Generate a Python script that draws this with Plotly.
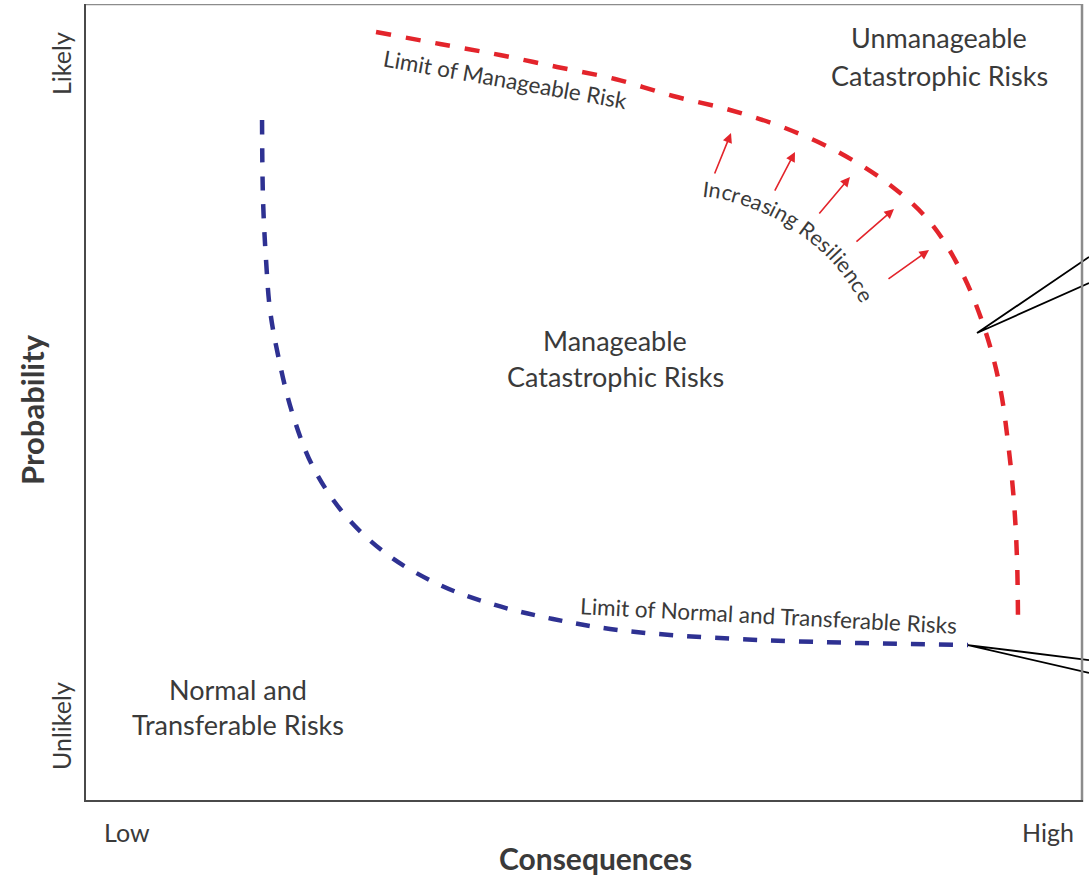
import math
import plotly.graph_objects as go

# ---------------- data (Consequences %, Probability %) ----------------
red_x = [29.26, 35.67, 41.68, 47.39, 53.21, 59.02, 64.73, 70.24, 75.75, 80.76,
         84.77, 87.98, 90.28, 91.78, 92.59, 93.19, 93.49, 93.59]
red_y = [96.49, 94.99, 93.61, 92.11, 90.60, 88.47, 86.72, 84.46, 81.33, 77.32,
         72.68, 66.29, 59.15, 52.01, 44.99, 37.47, 30.33, 22.06]

blue_x = [17.84, 17.94, 18.24, 18.64, 19.44, 20.84, 22.95, 26.15, 30.46, 35.67,
          41.18, 46.99, 52.71, 58.72, 67.74, 77.76, 88.58]
blue_y = [85.46, 75.44, 67.92, 61.65, 56.02, 48.87, 41.98, 35.96, 30.95, 27.19,
          24.69, 22.93, 21.68, 20.93, 20.30, 19.92, 19.67]

arrow_tail_x = [63.13, 69.14, 73.55, 77.25, 80.46]
arrow_tail_y = [78.57, 76.44, 73.56, 70.05, 65.41]
arrow_head_x = [64.83, 71.24, 76.75, 81.16, 84.67]
arrow_head_y = [83.83, 81.45, 78.32, 74.31, 69.17]

callout1_x = [100.70, 89.48, 100.70]
callout1_y = [68.30, 58.77, 65.04]
callout2_x = [100.70, 88.58, 100.70]
callout2_y = [17.79, 19.67, 16.17]

region_labels = ["Unmanageable", "Catastrophic Risks", "Manageable", "Catastrophic Risks",
                 "Normal and", "Transferable Risks"]
region_x = [85.67, 85.67, 53.21, 53.21, 15.43, 15.43]
region_y = [95.74, 91.10, 57.89, 53.38, 14.04, 9.65]

x_tick_labels = ["Low", "High"]
y_tick_labels = ["Unlikely", "Likely"]

# ---------------- layout constants ----------------
W, H = 1089, 879
ML, MR, MT, MB = 84, 0, 4, 77
PW, PH = W - ML - MR, H - MT - MB
XMAX = 100.70
TXT = "#3a3a3a"
FONT = "Lato"

def px_to_data(px, py):
    return (px - ML) * XMAX / PW, (MT + PH - py) * 100.0 / PH

fig = go.Figure()

fig.add_trace(go.Scatter(x=red_x, y=red_y, mode="lines",
                         line=dict(color="#E3242B", width=4.5, dash="15px,15px",
                                   shape="spline", smoothing=1.0),
                         hoverinfo="skip"))
fig.add_trace(go.Scatter(x=blue_x, y=blue_y, mode="lines",
                         line=dict(color="#2E3192", width=4.5, dash="14px,14px",
                                   shape="spline", smoothing=1.0),
                         hoverinfo="skip"))
for cx_, cy_ in [(callout1_x, callout1_y), (callout2_x, callout2_y)]:
    fig.add_trace(go.Scatter(x=cx_, y=cy_, mode="lines",
                             line=dict(color="black", width=1.8),
                             hoverinfo="skip"))

annotations = []
# arrows
for tx, ty, hx, hy in zip(arrow_tail_x, arrow_tail_y, arrow_head_x, arrow_head_y):
    annotations.append(dict(x=hx, y=hy, ax=tx, ay=ty, xref="x", yref="y",
                            axref="x", ayref="y", text="", showarrow=True,
                            arrowhead=2, arrowsize=1.2, arrowwidth=1.6,
                            arrowcolor="#E3242B", standoff=0, startstandoff=0))
# region labels
for t, x, y in zip(region_labels, region_x, region_y):
    annotations.append(dict(x=x, y=y, xref="x", yref="y", text=t, showarrow=False,
                            font=dict(family=FONT, size=27, color=TXT),
                            xanchor="center", yanchor="middle"))
# limit labels
annotations.append(dict(x=42.28, y=90.60, xref="x", yref="y", text="Limit of Manageable Risk",
                        showarrow=False, textangle=10,
                        font=dict(family=FONT, size=22.5, color=TXT)))
annotations.append(dict(x=68.54, y=23.31, xref="x", yref="y",
                        text="Limit of Normal and Transferable Risks",
                        showarrow=False, textangle=3,
                        font=dict(family=FONT, size=22.5, color=TXT)))

# curved "Increasing Resilience"
inc_text = "Increasing Resilience"
cw = {"I": .28, "n": .56, "c": .46, "r": .37, "e": .52, "a": .49, "s": .41, "i": .24,
      "g": .50, " ": .22, "R": .60, "l": .24}
arc_cx, arc_cy, arc_r = 680, 400, 213
phi0, phi1 = -84.0, -28.0
total = sum(cw[c] for c in inc_text)
cum = 0.0
for ch in inc_text:
    w = cw[ch]
    if ch != " ":
        phi = phi0 + (phi1 - phi0) * (cum + w / 2) / total
        pr = math.radians(phi)
        px = arc_cx + arc_r * math.cos(pr)
        py = arc_cy + arc_r * math.sin(pr)
        dx, dy = px_to_data(px, py)
        annotations.append(dict(x=dx, y=dy, xref="x", yref="y", text=ch, showarrow=False,
                                textangle=phi + 90, xanchor="center", yanchor="middle",
                                font=dict(family=FONT, size=21.5, color=TXT)))
    cum += w

# axis labels (outside plot area)
def paper(px, py):
    return (px - ML) / PW, (MT + PH - py) / PH

for t, (px, py) in zip(x_tick_labels, [(127, 832), (1048, 832)]):
    xp, yp = paper(px, py)
    annotations.append(dict(x=xp, y=yp, xref="paper", yref="paper", text=t, showarrow=False,
                            font=dict(family=FONT, size=25, color=TXT),
                            xanchor="center", yanchor="middle"))
for t, (px, py) in zip(y_tick_labels, [(61, 726), (61, 64)]):
    xp, yp = paper(px, py)
    annotations.append(dict(x=xp, y=yp, xref="paper", yref="paper", text=t, showarrow=False,
                            textangle=-90, font=dict(family=FONT, size=25, color=TXT),
                            xanchor="center", yanchor="middle"))
xp, yp = paper(595, 858)
annotations.append(dict(x=xp, y=yp, xref="paper", yref="paper", text="<b>Consequences</b>",
                        showarrow=False, font=dict(family=FONT, size=30, color=TXT),
                        xanchor="center", yanchor="middle"))
xp, yp = paper(32, 410)
annotations.append(dict(x=xp, y=yp, xref="paper", yref="paper", text="<b>Probability</b>",
                        showarrow=False, textangle=-90,
                        font=dict(family=FONT, size=31, color=TXT),
                        xanchor="center", yanchor="middle"))

shapes = [
    dict(type="line", xref="x", yref="y", x0=0, x1=100, y0=100, y1=100,
         line=dict(color="#8c8c8c", width=2.5)),
    dict(type="line", xref="x", yref="y", x0=100, x1=100, y0=0, y1=100,
         line=dict(color="#8c8c8c", width=2.5)),
    dict(type="line", xref="x", yref="y", x0=0, x1=0, y0=-0.25, y1=100,
         line=dict(color="#4a4a4a", width=4)),
    dict(type="line", xref="x", yref="y", x0=0, x1=100.1, y0=0, y1=0,
         line=dict(color="#4a4a4a", width=4)),
]

fig.update_layout(
    width=W, height=H,
    margin=dict(l=ML, r=MR, t=MT, b=MB),
    paper_bgcolor="white", plot_bgcolor="white",
    showlegend=False,
    xaxis=dict(range=[0, XMAX], showgrid=False, zeroline=False, showticklabels=False,
               showline=False, fixedrange=True),
    yaxis=dict(range=[0, 100], showgrid=False, zeroline=False, showticklabels=False,
               showline=False, fixedrange=True),
    annotations=annotations,
    shapes=shapes,
)

fig.write_html("out.html", config={"displayModeBar": False},
               post_script="document.body.style.margin='0';document.body.style.overflow='hidden';")
